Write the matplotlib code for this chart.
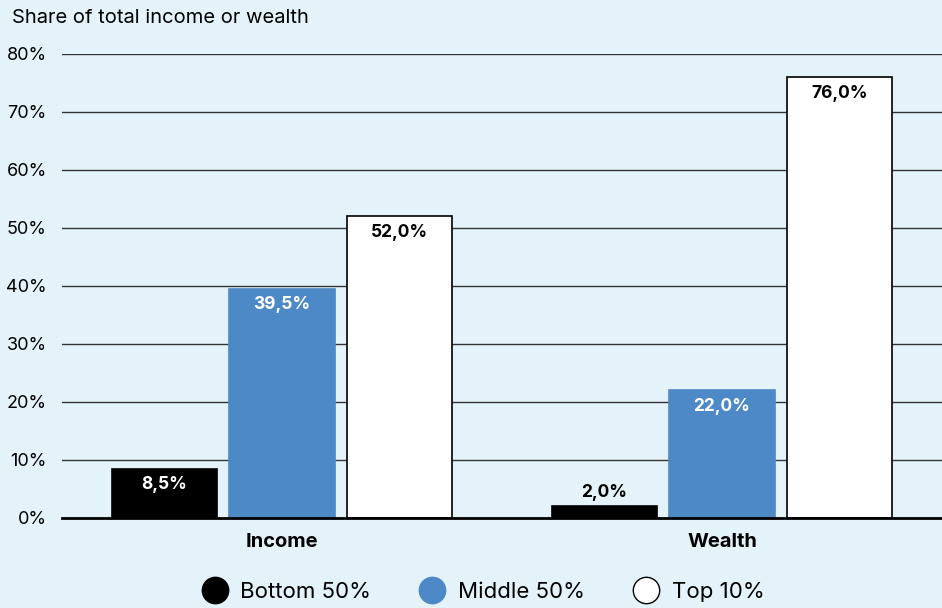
import numpy as np
import matplotlib.pyplot as plt
from matplotlib.lines import Line2D

plt.rcParams['font.family'] = ['Inter', 'DejaVu Sans']

categories = ['Income', 'Wealth']
groups = ['Bottom 50%', 'Middle 50%', 'Top 10%']
bottom50 = [8.5, 2.0]
middle50 = [39.5, 22.0]
top10 = [52.0, 76.0]
yticks = [0, 10, 20, 30, 40, 50, 60, 70, 80]

bg = '#e4f3f9'
colors = ['#000000', '#4d89c7', '#ffffff']
text_colors = ['white', 'white', 'black']

fig = plt.figure(figsize=(9.42, 6.08), dpi=100, facecolor=bg)
ax = fig.add_axes([62 / 942, 1 - 518 / 608, 880 / 942, 464 / 608])
ax.set_facecolor(bg)

x = np.arange(len(categories))
width = 0.24
offset = 0.267

for i, (vals, c, tc) in enumerate(zip([bottom50, middle50, top10], colors, text_colors)):
    pos = x + (i - 1) * offset
    ec = 'black' if c == '#ffffff' else c
    ax.bar(pos, vals, width, color=c, edgecolor=ec, linewidth=1.2, zorder=3)
    for p, v in zip(pos, vals):
        lbl = f'{v:.1f}%'.replace('.', ',')
        if v < 5:
            ax.text(p, v + 1.0, lbl, ha='center', va='bottom', fontsize=12.5,
                    fontweight='bold', color='black', zorder=4)
        else:
            ax.text(p, v - 1.3, lbl, ha='center', va='top', fontsize=12.5,
                    fontweight='bold', color=tc, zorder=4)

ax.set_xlim(-0.5, 1.5)
ax.set_ylim(0, 80)
ax.set_yticks(yticks)
ax.set_yticklabels([f'{t}%' for t in yticks], fontsize=13)
ax.yaxis.grid(True, color='#333333', linewidth=1.0, zorder=0)
ax.tick_params(axis='y', length=0, pad=11)
ax.set_xticks(x)
ax.set_xticklabels(categories, fontsize=14.5, fontweight='bold')
ax.tick_params(axis='x', length=0, pad=11)
for s in ['top', 'right', 'left']:
    ax.spines[s].set_visible(False)
ax.spines['bottom'].set_linewidth(2)
ax.spines['bottom'].set_zorder(5)

fig.text(12 / 942, 1 - 18 / 608, 'Share of total income or wealth', fontsize=14.5,
         va='center', ha='left')

handles = [Line2D([], [], marker='o', linestyle='', markersize=19,
                  markerfacecolor=c, markeredgecolor='black' if c == '#ffffff' else c)
           for c in colors]
fig.legend(handles, groups, loc='center', bbox_to_anchor=(0.508, 1 - 592 / 608),
           ncol=3, frameon=False, fontsize=16, handletextpad=0.15, columnspacing=1.75)

fig.savefig('out.png', dpi=100, facecolor=bg)
